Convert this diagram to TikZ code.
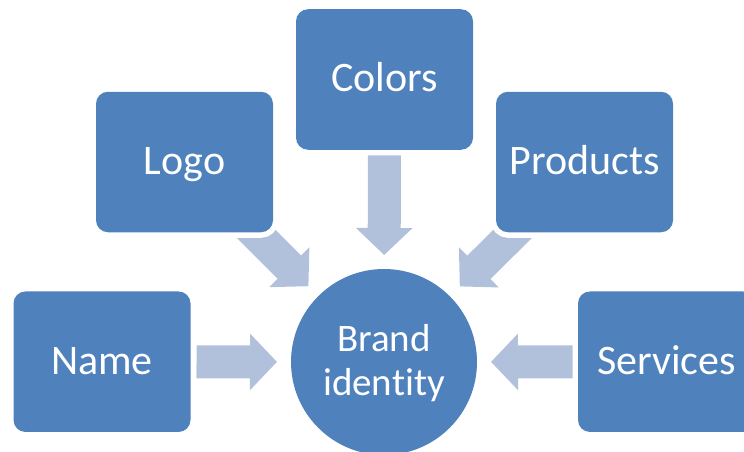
\documentclass[tikz,border=0pt]{standalone}
\usepackage{fontspec}
\setmainfont{Carlito}[Ligatures=NoCommon]
\usetikzlibrary{arrows.meta,backgrounds}
\definecolor{boxblue}{HTML}{4F81BD}
\definecolor{arrowblue}{HTML}{B2C1DB}
\tikzset{
  x=1pt,y=-1pt,
  itembox/.style={rectangle,rounded corners=12pt,fill=boxblue,text=white,
    minimum width=177pt,minimum height=140.5pt,inner sep=0pt,outer sep=0pt,
    text height=25pt,text depth=0pt,
    font=\fontsize{42}{44}\selectfont,
    preaction={draw=white,line width=11pt}},
  hub/.style={circle,fill=boxblue,text=white,minimum size=186pt,inner sep=0pt,outer sep=0pt,
    text height=66pt,text depth=0pt,
    align=center,font=\fontsize{39}{44}\selectfont},
  blockarrow/.style={draw=arrowblue,line width=33pt,
    -{Triangle[length=27pt,width=55pt,sep=0pt]}},
}
\begin{document}
\begin{tikzpicture}
\useasboundingbox (0,0) rectangle (744,452);
\clip (0,0) rectangle (744,452);
\node[hub] (brand) at (384,362) {Brand\\identity};
\node[itembox] (name) at (102,361.7) {Name};
\node[itembox] (logo) at (184.5,162) {Logo};
\node[itembox,text height=23pt] (colors) at (384.5,79.5) {Colors};
\node[itembox] (products) at (584.5,162) {Products};
\node[itembox] (services) at (666.5,361.7) {Services};
\begin{scope}[on background layer]
  \draw[blockarrow,shorten <=6pt,shorten >=14pt] (name) -- (brand);
  \draw[blockarrow,shorten <=5pt,shorten >=14pt] (services) -- (brand);
  \draw[blockarrow,shorten <=5pt,shorten >=14pt] (colors) -- (brand);
  \draw[blockarrow,shorten <=-25pt,shorten >=14pt] (logo) -- (brand);
  \draw[blockarrow,shorten <=-25pt,shorten >=14pt] (products) -- (brand);
\end{scope}
\end{tikzpicture}
\end{document}
